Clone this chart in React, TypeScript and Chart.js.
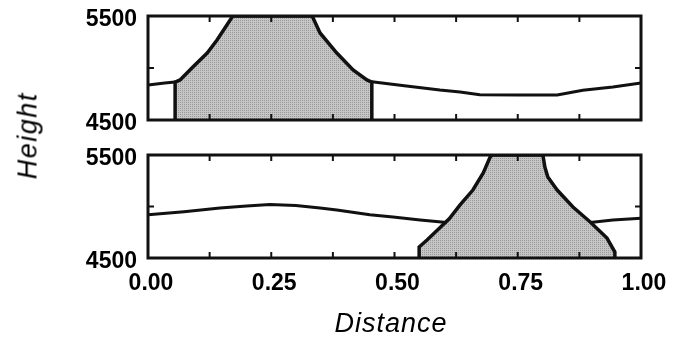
import React, { useEffect, useRef } from "react";
import { Chart, registerables } from "chart.js";
Chart.register(...registerables);

// ---- axes ----
const xMin = 0;
const xMax = 1;
const yMin = 4500;
const yMax = 5500;
const xTickLabels = [0, 0.25, 0.5, 0.75, 1];
const xMinorTicks = [0.125, 0.25, 0.375, 0.5, 0.625, 0.75, 0.875];
const yTickLabels = [4500, 5500];
const yMinorTicks = [5000];

// ---- top panel ----
const topLineLeftX = [0, 0.034, 0.055];
const topLineLeftY = [4837, 4856, 4865];
const topLineRightX = [0.454, 0.52, 0.592, 0.633, 0.673, 0.75, 0.83, 0.882, 0.943, 1.0];
const topLineRightY = [4868, 4830, 4788, 4769, 4742, 4740, 4740, 4785, 4817, 4856];
const topBodyX = [0.055, 0.055, 0.065, 0.091, 0.12, 0.14, 0.156, 0.172, 0.333, 0.349, 0.383, 0.416, 0.444, 0.454, 0.454];
const topBodyY = [4500, 4865, 4885, 5010, 5144, 5269, 5385, 5500, 5500, 5337, 5144, 4981, 4885, 4865, 4500];

// ---- bottom panel ----
const botLineLeftX = [0, 0.073, 0.146, 0.2, 0.247, 0.3, 0.349, 0.383, 0.45, 0.497, 0.552, 0.606];
const botLineLeftY = [4920, 4950, 4985, 5005, 5020, 5010, 4985, 4966, 4920, 4898, 4869, 4845];
const botLineRightX = [0.897, 0.943, 1.0];
const botLineRightY = [4845, 4868, 4885];
const botBodyX = [0.55, 0.55, 0.566, 0.611, 0.633, 0.659, 0.68, 0.694, 0.698, 0.801, 0.805, 0.811, 0.83, 0.862, 0.897, 0.931, 0.947, 0.947];
const botBodyY = [4500, 4607, 4675, 4880, 5015, 5160, 5325, 5481, 5500, 5500, 5383, 5286, 5160, 4995, 4850, 4694, 4558, 4500];

const pts = (xs: number[], ys: number[]) => xs.map((x, i) => ({ x, y: ys[i] }));

const TICK_FONT = { family: '"Liberation Sans", Arial, Helvetica, sans-serif', size: 23, weight: "bold" as const };

const framePlugin = {
  id: "frame",
  afterDatasetsDraw(chart: any) {
    const { ctx, chartArea } = chart;
    const { left, right, top, bottom } = chartArea;
    const xs = chart.scales.x;
    const ys = chart.scales.y;
    ctx.save();
    ctx.strokeStyle = "#111";
    ctx.lineWidth = 3;
    ctx.strokeRect(left, top, right - left, bottom - top);
    ctx.lineWidth = 2;
    ctx.beginPath();
    xMinorTicks.forEach((v) => {
      const px = xs.getPixelForValue(v);
      ctx.moveTo(px, top);
      ctx.lineTo(px, top + 6);
      ctx.moveTo(px, bottom);
      ctx.lineTo(px, bottom - 6);
    });
    yMinorTicks.forEach((v) => {
      const py = ys.getPixelForValue(v);
      ctx.moveTo(left, py);
      ctx.lineTo(left + 6, py);
      ctx.moveTo(right, py);
      ctx.lineTo(right - 6, py);
    });
    ctx.stroke();
    ctx.restore();
  },
};

function makePattern(): any {
  const c = document.createElement("canvas");
  c.width = 2;
  c.height = 2;
  const g = c.getContext("2d")!;
  g.fillStyle = "#c6c6c6";
  g.fillRect(0, 0, 2, 2);
  g.fillStyle = "#999999";
  g.fillRect(0, 0, 1, 1);
  return g.createPattern(c, "repeat");
}

function makeChart(canvas: HTMLCanvasElement, body: any[], lines: any[][], showX: boolean, padTop: number, xHeight: number) {
  const datasets: any[] = [
    {
      data: body,
      borderColor: "#111",
      borderWidth: 3.5,
      backgroundColor: makePattern(),
      fill: "start",
      pointRadius: 0,
      tension: 0,
      order: 2,
    },
    ...lines.map((l) => ({
      data: l,
      borderColor: "#111",
      borderWidth: 3,
      fill: false,
      pointRadius: 0,
      tension: 0,
      order: 1,
    })),
  ];
  return new Chart(canvas, {
    type: "line",
    data: { datasets },
    plugins: [framePlugin],
    options: {
      animation: false,
      responsive: false,
      maintainAspectRatio: false,
      layout: { padding: { left: 0, right: 50, top: padTop, bottom: 0 } },
      plugins: { legend: { display: false }, tooltip: { enabled: false } },
      scales: {
        x: {
          type: "linear",
          min: xMin,
          max: xMax,
          grid: { display: false, drawTicks: false },
          border: { display: false },
          ticks: {
            display: showX,
            autoSkip: false,
            maxRotation: 0,
            padding: 12,
            labelOffset: 3,
            font: TICK_FONT,
            color: "#000",
            callback: (v: any) => Number(v).toFixed(2),
          },
          afterBuildTicks: (s: any) => {
            s.ticks = xTickLabels.map((v) => ({ value: v }));
          },
          afterFit: (s: any) => {
            s.height = xHeight;
            s.paddingLeft = 0;
            s.paddingRight = 0;
          },
        },
        y: {
          type: "linear",
          min: yMin,
          max: yMax,
          grid: { display: false, drawTicks: false },
          border: { display: false },
          ticks: {
            padding: 11,
            labelOffset: 4,
            font: TICK_FONT,
            color: "#000",
            callback: (v: any) => String(v),
          },
          afterBuildTicks: (s: any) => {
            s.ticks = yTickLabels.map((v) => ({ value: v }));
          },
          afterFit: (s: any) => {
            s.width = 148;
            s.paddingTop = 0;
            s.paddingBottom = 0;
          },
        },
      },
    } as any,
  });
}

export default function App() {
  const topRef = useRef<HTMLCanvasElement>(null);
  const botRef = useRef<HTMLCanvasElement>(null);

  useEffect(() => {
    const c1 = makeChart(
      topRef.current!,
      pts(topBodyX, topBodyY),
      [pts(topLineLeftX, topLineLeftY), pts(topLineRightX, topLineRightY)],
      false,
      16,
      20
    );
    const c2 = makeChart(
      botRef.current!,
      pts(botBodyX, botBodyY),
      [pts(botLineLeftX, botLineLeftY), pts(botLineRightX, botLineRightY)],
      true,
      15,
      81
    );
    return () => {
      c1.destroy();
      c2.destroy();
    };
  }, []);

  const titleFont: React.CSSProperties = {
    position: "absolute",
    fontFamily: '"Liberation Sans", Arial, Helvetica, sans-serif',
    fontStyle: "italic",
    fontSize: 27,
    lineHeight: "27px",
    color: "#000",
    whiteSpace: "nowrap",
    textAlign: "center",
  };

  return (
    <div style={{ position: "absolute", left: 0, top: 0, width: 691, height: 339, background: "#fff", overflow: "hidden" }}>
      <canvas ref={topRef} width={691} height={140} style={{ position: "absolute", left: 0, top: 0, width: 691, height: 140 }} />
      <canvas ref={botRef} width={691} height={199} style={{ position: "absolute", left: 0, top: 140, width: 691, height: 199 }} />
      <div style={{ ...titleFont, left: 290, top: 310, width: 200, letterSpacing: "1px", paddingLeft: 1 }}>Distance</div>
      <div
        style={{
          ...titleFont,
          left: 28 - 50,
          top: 136 - 13.5,
          width: 100,
          height: 27,
          letterSpacing: "1.5px",
          paddingLeft: 1.5,
          boxSizing: "border-box",
          transform: "rotate(-90deg)",
          transformOrigin: "50% 50%",
        }}
      >
        Height
      </div>
    </div>
  );
}
